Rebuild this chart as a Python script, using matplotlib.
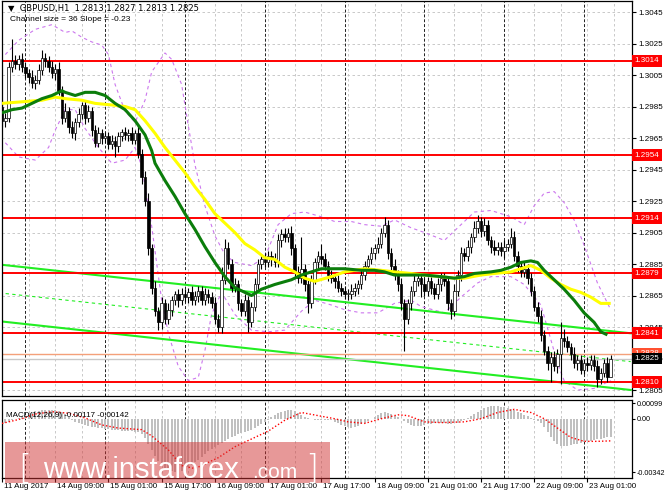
import matplotlib
matplotlib.use("Agg")
import matplotlib.pyplot as plt
import matplotlib.transforms as mtransforms
from matplotlib.patches import Rectangle
import numpy as np
import pandas as pd

# GBPUSD H1, 11 Aug 2017 17:00 .. 23 Aug 2017 08:00, prices in 1e-4 units
first_open = 12985
closes = [12976, 12978, 13010, 13014, 13012, 13015, 13010, 13006, 13004, 13000,
          13002, 13008, 13016, 13014, 13010, 13006, 13009, 12995, 12978, 12982,
          12972, 12968, 12975, 12980, 12986, 12978, 12982, 12970, 12962, 12968,
          12965, 12966, 12961, 12963, 12960, 12966, 12969, 12967, 12968, 12964,
          12968, 12955, 12940, 12925, 12895, 12870, 12855, 12848, 12860, 12850,
          12856, 12862, 12866, 12862, 12866, 12864, 12867, 12862, 12865, 12868,
          12862, 12866, 12864, 12860, 12850, 12845, 12875, 12895, 12885, 12870,
          12872, 12860, 12855, 12862, 12848, 12858, 12872, 12885, 12888, 12886,
          12890, 12888, 12886, 12900, 12904, 12902, 12905, 12895, 12880, 12876,
          12882, 12872, 12860, 12875, 12886, 12890, 12888, 12884, 12878, 12876,
          12874, 12870, 12868, 12866, 12866, 12868, 12870, 12872, 12878, 12884,
          12888, 12892, 12895, 12898, 12905, 12910, 12892, 12884, 12878, 12872,
          12860, 12850, 12860, 12868, 12874, 12876, 12872, 12868, 12874, 12870,
          12866, 12872, 12876, 12874, 12860, 12855, 12868, 12878, 12892, 12890,
          12896, 12902, 12908, 12912, 12906, 12910, 12900, 12896, 12894, 12896,
          12893, 12896, 12898, 12902, 12890, 12884, 12880, 12882, 12876, 12868,
          12858, 12852, 12840, 12830, 12822, 12826, 12820, 12828, 12838, 12836,
          12832, 12828, 12822, 12824, 12818, 12822, 12821, 12824, 12820, 12812,
          12816, 12822, 12813, 12825]
# wick lengths above / below the body, in pips
wick_up = [4, 3, 3, 14, 4, 3, 4, 3, 3, 4, 3, 4, 5, 3, 3, 4, 3, 4, 3, 5,
           3, 4, 3, 4, 2, 3, 4, 3, 3, 4, 3, 3, 3, 4, 3, 3, 2, 3, 3, 4,
           2, 5, 3, 4, 5, 3, 4, 3, 4, 3, 4, 3, 2, 3, 4, 3, 3, 4, 3, 3,
           3, 4, 3, 3, 4, 3, 8, 6, 4, 3, 4, 3, 3, 4, 3, 3, 4, 3, 3, 4,
           3, 3, 4, 4, 3, 4, 3, 4, 3, 4, 20, 3, 3, 3, 3, 3, 8, 4, 3, 3,
           3, 4, 3, 3, 3, 4, 3, 3, 4, 3, 3, 4, 3, 4, 3, 5, 3, 3, 4, 3,
           4, 3, 3, 3, 4, 3, 3, 4, 3, 3, 3, 4, 3, 3, 3, 3, 4, 3, 4, 3,
           4, 3, 4, 4, 3, 4, 3, 3, 4, 3, 3, 4, 3, 6, 4, 3, 3, 4, 3, 3,
           3, 3, 4, 3, 3, 3, 4, 3, 10, 6, 3, 3, 4, 3, 3, 3, 4, 3, 3, 4,
           3, 3, 4, 2]
wick_dn = [4, 4, 3, 3, 3, 4, 3, 3, 4, 3, 4, 3, 3, 4, 3, 3, 4, 3, 4, 3,
           4, 3, 4, 3, 3, 4, 3, 4, 3, 3, 4, 3, 3, 3, 7, 4, 3, 3, 4, 3,
           3, 3, 4, 3, 4, 4, 3, 5, 4, 3, 3, 4, 3, 4, 3, 3, 4, 3, 3, 4,
           3, 3, 4, 3, 3, 3, 4, 3, 3, 3, 3, 4, 3, 3, 6, 3, 3, 4, 3, 3,
           3, 4, 3, 3, 4, 3, 3, 4, 3, 3, 3, 4, 6, 3, 3, 4, 3, 3, 4, 3,
           4, 3, 3, 3, 4, 3, 3, 4, 3, 3, 3, 3, 4, 3, 3, 3, 4, 3, 3, 4,
           4, 20, 3, 4, 3, 3, 8, 3, 3, 4, 3, 3, 4, 3, 4, 5, 3, 3, 4, 3,
           3, 4, 3, 3, 4, 3, 3, 4, 3, 3, 3, 4, 3, 3, 3, 4, 3, 3, 4, 3,
           3, 4, 4, 3, 4, 12, 3, 4, 19, 4, 3, 4, 3, 4, 3, 3, 4, 3, 3, 5,
           3, 3, 3, 0]

# moving averages (bar index, price)
ma_green_idx = [0, 3, 6, 9, 12, 15, 18, 19, 22, 25, 28, 31, 34, 37, 40, 43, 45, 46, 49, 52,
                55, 58, 61, 64, 67, 70, 73, 75, 78, 82, 87, 90, 93, 96, 99, 103, 108, 112, 115, 118,
                123, 127, 132, 136, 139, 142, 147, 150, 153, 156, 159, 161, 163, 166, 169, 172, 175, 178, 180, 182]
ma_green = [12981, 12983, 12984, 12987, 12990, 12992, 12995, 12994, 12992, 12994,
            12994, 12992, 12987, 12983, 12976, 12967, 12957, 12949, 12938, 12928,
            12917, 12907, 12896, 12886, 12877, 12870, 12867, 12865, 12869, 12872,
            12875, 12878, 12880, 12882, 12882, 12882, 12881, 12881, 12880, 12878,
            12878, 12878, 12877, 12876, 12877, 12879, 12880, 12881, 12883, 12886,
            12887, 12886, 12881, 12875, 12869, 12862, 12854, 12848, 12842, 12840]
ma_yellow_idx = [0, 6, 12, 16, 19, 24, 28, 33, 37, 40, 43, 46, 49, 52, 55, 58, 61, 64, 67, 70,
                 73, 76, 79, 82, 85, 88, 91, 94, 99, 103, 106, 109, 114, 118, 123, 127, 132, 136, 139, 144,
                 148, 153, 156, 159, 162, 165, 168, 171, 174, 177, 180, 183]
ma_yellow = [12987, 12988, 12989, 12991, 12990, 12989, 12987, 12986, 12985, 12983,
             12976, 12968, 12959, 12951, 12943, 12934, 12926, 12917, 12911, 12905,
             12898, 12894, 12889, 12888, 12883, 12880, 12876, 12874, 12877, 12880,
             12881, 12882, 12881, 12880, 12879, 12878, 12877, 12876, 12876, 12878,
             12879, 12880, 12882, 12884, 12881, 12876, 12872, 12869, 12867, 12864,
             12860, 12860]

# envelope bands (purple dashed)
band_up_idx = [1, 5, 10, 15, 19, 21, 24, 27, 30, 32, 34, 37, 40, 43, 45, 49, 51, 54, 56, 58,
               61, 64, 67, 70, 75, 79, 83, 87, 91, 96, 100, 105, 109, 114, 118, 123, 127, 133, 138, 142,
               147, 153, 157, 160, 163, 166, 169, 172, 175, 179, 183]
band_up = [13018, 13027, 13034, 13037, 13032, 13033, 13029, 13026, 13024, 13018,
           12999, 12982, 12975, 12989, 13007, 13019, 13015, 12999, 12973, 12948,
           12922, 12903, 12891, 12886, 12884, 12889, 12910, 12917, 12918, 12915,
           12912, 12912, 12910, 12909, 12913, 12908, 12905, 12900, 12910, 12918,
           12919, 12915, 12910, 12922, 12930, 12931, 12924, 12913, 12897, 12873,
           12856]
band_dn_idx = [1, 5, 10, 14, 16, 19, 22, 25, 29, 33, 37, 40, 42, 45, 48, 50, 53, 56, 59, 61,
               63, 66, 70, 75, 80, 85, 90, 94, 99, 103, 108, 113, 118, 123, 126, 133, 138, 143, 147, 153,
               157, 162, 165, 167, 169, 173, 178, 183]
band_dn = [12962, 12953, 12951, 12959, 12970, 12983, 12983, 12971, 12959, 12949,
           12951, 12959, 12947, 12909, 12862, 12841, 12820, 12811, 12813, 12830,
           12853, 12867, 12853, 12843, 12842, 12843, 12855, 12862, 12859, 12856,
           12854, 12854, 12860, 12862, 12858, 12854, 12864, 12873, 12877, 12877,
           12872, 12859, 12837, 12822, 12811, 12805, 12806, 12811]

levels = [1.3014, 1.2954, 1.2914, 1.2879, 1.2841, 1.2810]
ask_price = 1.2828
bid_price = 1.2825

# linear regression channel: size 36, slope -0.23
channel_mid_start = 12866.5
channel_slope = -0.23
channel_half = 18
channel_end = 189

price_ticks = ["1.3045", "1.3025", "1.3005", "1.2985", "1.2965", "1.2945", "1.2925",
               "1.2905", "1.2885", "1.2865", "1.2845", "1.2825", "1.2805"]

# MACD(12,26,9) histogram, 1e-5 units
macd_hist = [-35, -30, -20, -10, -2, 5, 15, 25, 35, 42, 48, 52, 55, 57, 58, 58, 55, 50, 40, 28,
             12, -5, -20, -30, -35, -40, -45, -50, -55, -60, -62, -65, -68, -70, -72, -75, -76, -78, -80, -80,
             -82, -88, -100, -125, -160, -200, -240, -270, -295, -315, -330, -338, -342, -340, -335, -325,
             -310, -295, -280, -262, -245, -228, -210, -195, -180, -170, -155, -140, -130, -120, -110, -100,
             -92, -85, -78, -70, -60, -48, -35, -22, -8, 8, 22, 35, 45, 52, 56, 55, 48, 35,
             22, 10, 2, -3, -6, -8, -8, -6, -5, -10, -20, -30, -40, -48, -55, -58, -55, -45, -35, -25,
             -12, 0, 12, 25, 35, 40, 38, 30, 20, 10, 0, -15, -30, -40, -45, -48, -45, -40,
             -35, -32, -30, -28, -28, -30, -32, -35, -30, -25, -15, -5, 5, 15,
             30, 45, 58, 68, 75, 80, 82, 80, 78, 75, 70, 62, 55, 45, 35, 25, 15, 5, -5, -15,
             -30, -55, -85, -115, -140, -160, -172, -178, -176, -170, -165, -160, -155, -150, -145, -140,
             -135, -132, -128, -124, -120, -117]
signal_idx = [0, 6, 10, 15, 20, 25, 30, 35, 42, 45, 50, 54, 58, 65, 70, 75, 80, 85, 90, 95,
              100, 104, 109, 114, 119, 122, 127, 132, 139, 144, 149, 154, 159, 163, 167, 171, 175, 179, 183]
signal = [-30, 0, 30, 45, 35, 5, -40, -60, -70, -110, -200, -300, -320, -250, -180, -130, -80, -10, 40, 20,
          0, -20, -30, 0, 25, 20, -20, -25, -20, 0, 40, 60, 40, 0, -60, -120, -145, -145, -142]
macd_labels = ["0.00099", "0.00", "-0.00342"]
macd_levels = [99, 0, -342]

times = pd.date_range("2017-08-11 17:00", "2017-08-23 08:00", freq="h")
times = times[times.dayofweek < 5]

W, H = 665, 499
def fx(px):
    return px / W
def fy(py):
    return 1 - py / H

plt.rcParams['font.family'] = ['Liberation Sans', 'DejaVu Sans']
fig = plt.figure(figsize=(W / 100, H / 100), dpi=100)
fig.patch.set_facecolor('white')

ax = fig.add_axes([fx(2), fy(396), fx(632) - fx(2), fy(1) - fy(396)])
axm = fig.add_axes([fx(2), fy(478), fx(632) - fx(2), fy(400) - fy(478)])

n = len(closes)
x = np.arange(n)
c = np.array(closes) / 1e4
o = np.array([first_open] + closes[:-1]) / 1e4
top = np.maximum(o, c)
bot = np.minimum(o, c)
hi = top + np.array(wick_up) / 1e4
lo = bot - np.array(wick_dn) / 1e4

sep_idx = [i for i, t in enumerate(times) if t.hour == 0]

for a in (ax, axm):
    a.set_xlim(0, 189.4)
    for k in range(0, 190, 8):
        a.axvline(k, color='#c0c0c0', lw=0.6, ls=(0, (3, 3)), zorder=0)
    for k in sep_idx:
        a.axvline(k, color='#202020', lw=0.7, ls=(0, (3, 2)), zorder=0.5)
    for s in a.spines.values():
        s.set_color('black')
        s.set_linewidth(0.9)

ax.set_ylim(1.28012, 1.30520)
tick_vals = [float(t) for t in price_ticks]
for v in tick_vals:
    ax.axhline(v, color='#c0c0c0', lw=0.6, ls=(0, (3, 3)), zorder=0)

# bands and channel
ax.plot(band_up_idx, np.array(band_up) / 1e4, color='#cc77ee', lw=0.8, ls=(0, (3, 3)), zorder=1)
ax.plot(band_dn_idx, np.array(band_dn) / 1e4, color='#cc77ee', lw=0.8, ls=(0, (3, 3)), zorder=1)
cx = np.array([-2, channel_end])
cmid = (channel_mid_start + channel_slope * cx) / 1e4
ax.plot(cx, cmid + channel_half / 1e4, color='#22ee22', lw=1.5, zorder=2)
ax.plot(cx, cmid - channel_half / 1e4, color='#22ee22', lw=1.5, zorder=2)
ax.plot(cx, cmid, color='#22ee22', lw=0.8, ls=(0, (3, 3)), zorder=2)

for lv in levels:
    ax.axhline(lv, color='#ff0000', lw=1.4, zorder=2)
ax.axhline(ask_price, color='#f4a07a', lw=1.0, zorder=2)
ax.axhline(bid_price, color='#c8c8c8', lw=1.0, zorder=2)

# candles
ax.vlines(x, lo, hi, color='black', lw=0.8, zorder=3)
bull = c >= o
face = np.where(bull, 'white', 'black')
ax.bar(x, np.maximum(top - bot, 0.00003), bottom=bot, width=0.75, color=face,
       edgecolor='black', linewidth=0.5, zorder=4)

ax.plot(ma_yellow_idx, np.array(ma_yellow) / 1e4, color='#ffff00', lw=2.2, zorder=5,
        solid_capstyle='butt')
ax.plot(ma_green_idx, np.array(ma_green) / 1e4, color='#0b7d0b', lw=2.2, zorder=6,
        solid_capstyle='butt')

ax.yaxis.tick_right()
ax.set_yticks(tick_vals)
ax.set_yticklabels(price_ticks)
ax.tick_params(axis='y', length=3, width=0.8, pad=1.5, labelsize=5.8, colors='black')
ax.set_xticks([])

trans = mtransforms.blended_transform_factory(ax.transAxes, ax.transData)
for lv in levels:
    ax.text(1.004, lv, '%.4f' % lv, transform=trans, ha='left', va='center', fontsize=5.8,
            color='white', zorder=10, clip_on=False,
            bbox=dict(boxstyle='square,pad=0.3', fc='#ff0000', ec='none'))
ax.text(1.004, ask_price, '%.4f' % ask_price, transform=trans, ha='left', va='center', fontsize=5.8,
        color='white', zorder=10, clip_on=False,
        bbox=dict(boxstyle='square,pad=0.3', fc='#ff5030', ec='none'))
ax.text(1.004, bid_price, '%.4f' % bid_price, transform=trans, ha='left', va='center', fontsize=5.8,
        color='white', zorder=11, clip_on=False,
        bbox=dict(boxstyle='square,pad=0.3', fc='black', ec='none'))

ax.text(fx(6) / (fx(632) - fx(2)), 0.982, '\u25bc  GBPUSD,H1  1.2813 1.2827 1.2813 1.2825',
        transform=ax.transAxes, fontsize=6, family=['DejaVu Sans'], color='black', va='center')
ax.text(0.012, 0.952, 'Channel size = 36 Slope = -0.23', transform=ax.transAxes,
        fontsize=6, color='black', va='center')

# MACD panel
axm.set_ylim(-380, 120)
axm.bar(x, macd_hist, width=0.6, color='#c0c0c0', zorder=2)
axm.plot(signal_idx, signal, color='#ff0000', lw=1.0, ls=(0, (1, 1.5)), zorder=3)
axm.yaxis.tick_right()
axm.set_yticks(macd_levels)
axm.set_yticklabels(macd_labels)
axm.tick_params(axis='y', length=2.5, width=0.8, pad=1, labelsize=5.2)
axm.text(0.006, 0.8, 'MACD(12,26,9) -0.00117 -0.00142', transform=axm.transAxes,
         fontsize=5.8, color='black', va='center')

lab_idx = list(range(0, n, 16))
lab_txt = [times[0].strftime('%d Aug %Y')] + [times[i].strftime('%d Aug %H:%M') for i in lab_idx[1:]]
axm.set_xticks(lab_idx)
axm.set_xticklabels([])
axm.tick_params(axis='x', length=3, width=0.8, direction='out')
xtr = mtransforms.blended_transform_factory(axm.transData, axm.transAxes)
for i, t in zip(lab_idx, lab_txt):
    axm.text(i + 0.6, -0.06, t, transform=xtr, ha='left', va='top', fontsize=5.8, clip_on=False)

# watermark
fig.patches.append(Rectangle((fx(5), fy(483)), fx(330) - fx(5), fy(442) - fy(483),
                             transform=fig.transFigure, facecolor=(0.82, 0.2, 0.2), alpha=0.5,
                             edgecolor='none', zorder=20))
fig.text(fx(18), fy(479), '[', fontsize=24, color='white', zorder=21, va='baseline',
         family=['DejaVu Sans'], fontweight='light')
fig.text(fx(43), fy(478), 'www.instaforex', fontsize=21, color='white', zorder=21,
         va='baseline', fontweight='light')
fig.text(fx(252), fy(478), '.com', fontsize=15, color='white', zorder=21, va='baseline',
         fontweight='light')
fig.text(fx(305), fy(479), ']', fontsize=24, color='white', zorder=21, va='baseline',
         family=['DejaVu Sans'], fontweight='light')

fig.savefig('out.png', dpi=100, facecolor='white')
